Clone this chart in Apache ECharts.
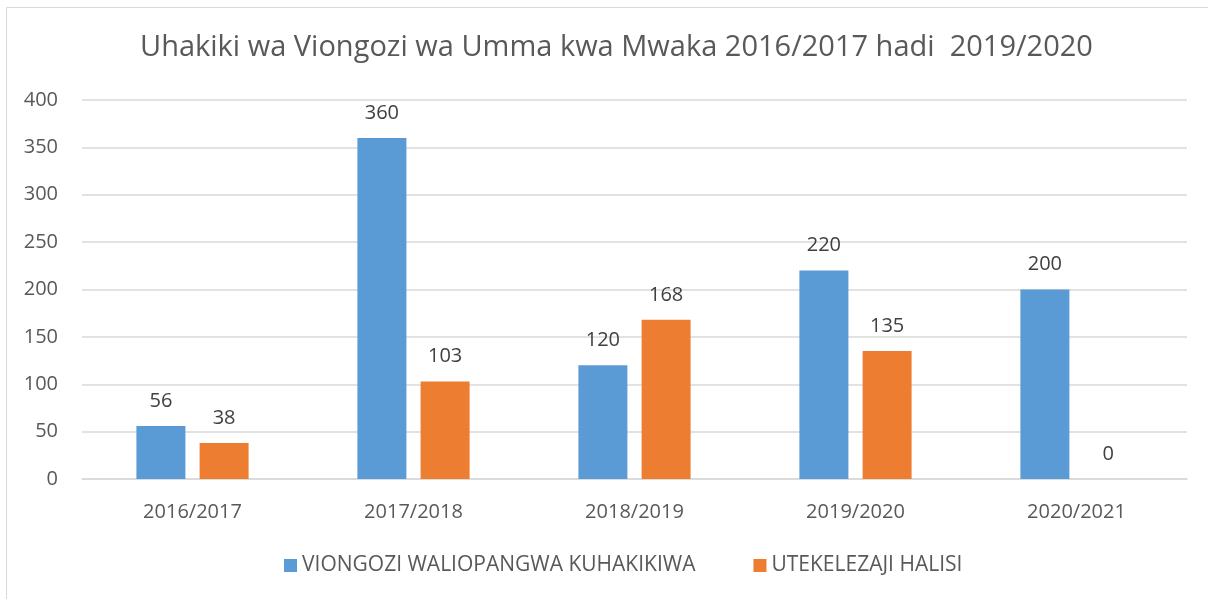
<!DOCTYPE html>
<html>
<head>
<meta charset="utf-8">
<script src="https://cdn.jsdelivr.net/npm/echarts@6/dist/echarts.min.js"></script>
<style>
  html, body { margin: 0; padding: 0; background: #fff; }
  #chart { width: 1208px; height: 599px; }
</style>
</head>
<body>
<div id="chart"></div>
<script>
const years = ["2016/2017", "2017/2018", "2018/2019", "2019/2020", "2020/2021"];
const planned = [56, 360, 120, 220, 200];
const actual = [38, 103, 168, 135, 0];
const seriesNames = ["VIONGOZI WALIOPANGWA KUHAKIKIWA", "UTEKELEZAJI HALISI"];

const FONT = "Open Sans";
const labelStyle = { show: true, position: "top", distance: 15, color: "#404040", fontSize: 20, fontFamily: FONT };

const chart = echarts.init(document.getElementById("chart"));
chart.setOption({
  animation: false,
  textStyle: { fontFamily: FONT },
  title: {
    text: "Uhakiki wa Viongozi wa Umma kwa Mwaka 2016/2017 hadi  2019/2020",
    left: 135,
    top: 28,
    textStyle: { fontSize: 29, fontWeight: "normal", color: "#595959", fontFamily: FONT }
  },
  graphic: [{
    type: "rect",
    shape: { x: 6.5, y: 7.5, width: 1240, height: 640 },
    style: { fill: "none", stroke: "#d9d9d9", lineWidth: 1 },
    silent: true
  }],
  legend: {
    bottom: 18,
    left: 279,
    itemWidth: 13,
    itemHeight: 13,
    itemGap: 58,
    icon: "rect",
    textStyle: { fontSize: 21, color: "#595959", fontFamily: FONT }
  },
  grid: { left: 82, right: 21, top: 100, bottom: 120, containLabel: false },
  xAxis: {
    type: "category",
    data: years,
    axisLine: { lineStyle: { color: "#d9d9d9", width: 1.5 } },
    axisTick: { show: false },
    axisLabel: { fontSize: 20, color: "#595959", margin: 23, fontFamily: FONT }
  },
  yAxis: {
    type: "value",
    min: 0,
    max: 400,
    interval: 50,
    axisLine: { show: false },
    axisTick: { show: false },
    splitLine: { lineStyle: { color: "#d9d9d9", width: 1.5 } },
    axisLabel: { fontSize: 20, color: "#595959", margin: 24, fontFamily: FONT }
  },
  series: [
    {
      name: seriesNames[0],
      type: "bar",
      data: planned,
      barWidth: 49,
      barGap: "29%",
      itemStyle: { color: "#5b9bd5" },
      label: labelStyle
    },
    {
      name: seriesNames[1],
      type: "bar",
      data: actual,
      barWidth: 49,
      itemStyle: { color: "#ed7d31" },
      label: labelStyle
    }
  ]
});
</script>
</body>
</html>
